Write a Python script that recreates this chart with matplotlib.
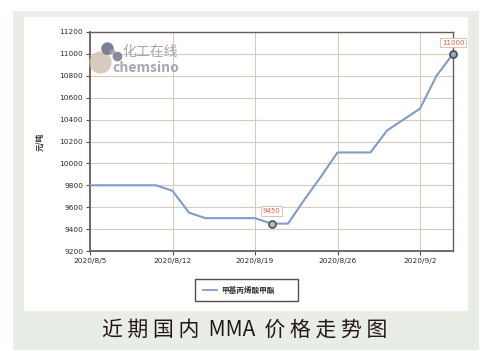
import matplotlib
matplotlib.use("Agg")
import matplotlib.pyplot as plt
from matplotlib.patches import Rectangle
from matplotlib.lines import Line2D

plt.rcParams["font.family"] = ["Noto Sans CJK SC", "DejaVu Sans"]

# weekday price series (yuan/ton)
dates = ["2020/8/5", "2020/8/6", "2020/8/7", "2020/8/10", "2020/8/11", "2020/8/12",
         "2020/8/13", "2020/8/14", "2020/8/17", "2020/8/18", "2020/8/19", "2020/8/20",
         "2020/8/21", "2020/8/24", "2020/8/25", "2020/8/26", "2020/8/27", "2020/8/28",
         "2020/8/31", "2020/9/1", "2020/9/2", "2020/9/3", "2020/9/4"]
prices = [9800, 9800, 9800, 9800, 9800, 9750, 9550, 9500, 9500, 9500, 9500, 9450,
          9450, 9670, 9880, 10100, 10100, 10100, 10300, 10400, 10500, 10800, 11000]
y_ticks = list(range(9200, 11201, 200))
tick_every = 5
series_name = "甲基丙烯酸甲酯"
y_label = "元/吨"
caption = "近 期 国 内  MMA  价 格 走 势 图"

W, H = 494, 351
fig = plt.figure(figsize=(W / 100, H / 100), dpi=100)
fig.patch.set_facecolor("white")


def px_rect(x0, y0, x1, y1, color):
    fig.patches.append(Rectangle((x0 / W, 1 - y1 / H), (x1 - x0) / W, (y1 - y0) / H,
                                 transform=fig.transFigure, facecolor=color,
                                 edgecolor="none", zorder=-10))


px_rect(13, 11, 479, 350, "#e8ede6")
px_rect(24, 17, 468, 311, "#ffffff")

ax = fig.add_axes([90 / W, 1 - 251 / H, (453 - 90) / W, (251 - 32) / H])
ax.set_facecolor("white")

x = list(range(len(dates)))
line_color = "#7f9ccc"
ax.plot(x, prices, color=line_color, lw=1.5, zorder=3)

ax.set_xlim(0, len(dates) - 1)
ax.set_ylim(y_ticks[0], y_ticks[-1])
ax.set_yticks(y_ticks)
ax.set_yticklabels([str(v) for v in y_ticks], fontsize=5.3, color="#2a2a2a",
                   family="Liberation Sans Narrow")
xt = x[::tick_every]
ax.set_xticks(xt)
ax.set_xticklabels([dates[i] for i in xt], fontsize=5.3, color="#2a2a2a",
                   family="Liberation Sans Narrow")
ax.tick_params(length=3, width=0.8, color="#5a4a4a", pad=2)
ax.grid(True, color="#dccabe", lw=0.8)
ax.set_axisbelow(True)
for s in ax.spines.values():
    s.set_color("#6e5c5c")
    s.set_linewidth(1.0)
ax.spines["left"].set_linewidth(1.3)
ax.spines["bottom"].set_linewidth(1.3)

# highlighted points
i_min = 11
i_last = len(prices) - 1
ax.plot(x[i_min], prices[i_min], "o", ms=5, mfc="#c9c37a", mec="#4a5a7a", mew=1.3,
        zorder=5, clip_on=False)
ax.plot(x[i_last], prices[i_last], "o", ms=5, mfc="#9aa8c0", mec="#4a5068", mew=1.3,
        zorder=5, clip_on=False)
box = dict(boxstyle="square,pad=0.25", fc="white", ec="#d8b8a8", lw=0.6)
ax.annotate(str(prices[i_min]), (x[i_min], prices[i_min]), xytext=(0, 7),
            textcoords="offset points", ha="center", va="bottom", fontsize=5,
            color="#e0603a", bbox=box, family="Liberation Sans Narrow")
ax.annotate(str(prices[i_last]), (x[i_last], prices[i_last]), xytext=(0, 6),
            textcoords="offset points", ha="center", va="bottom", fontsize=5,
            color="#e0603a", bbox=box, family="Liberation Sans Narrow",
            annotation_clip=False)

ax.set_ylabel(y_label, fontsize=5.5, fontweight="bold", color="#333333", labelpad=11)

# watermark
wm = [(100, 62, 16, "#cdbfae"), (107, 48, 9, "#5c6178"), (117, 56, 7, "#6a6f88"),
      (112, 51, 4, "#9a9fb2")]
for cx, cy, ms, c in wm:
    fig.add_artist(Line2D([cx / W], [1 - cy / H], marker="o", ms=ms, mfc=c, mec="none",
                          alpha=0.8, transform=fig.transFigure))
fig.text(122 / W, 1 - 52 / H, "化工在线", fontsize=10, color="#9c9ca6", va="center",
         ha="left", alpha=0.9)
fig.text(112 / W, 1 - 68 / H, "chemsino", fontsize=10, color="#9c9ca6", va="center",
         ha="left", alpha=0.9, fontweight="bold")

# legend box
lx0, ly0, lx1, ly1 = 195, 279, 298, 301
fig.patches.append(Rectangle((lx0 / W, 1 - ly1 / H), (lx1 - lx0) / W, (ly1 - ly0) / H,
                             transform=fig.transFigure, fc="white", ec="#5a4a4a",
                             lw=1.0, zorder=5))
fig.add_artist(Line2D([203 / W, 217 / W], [1 - 290 / H] * 2, color=line_color, lw=1.3,
                      transform=fig.transFigure, zorder=6))
fig.text(221 / W, 1 - 290 / H, series_name, fontsize=5.5, fontweight="bold",
         color="#333333", va="center", ha="left", zorder=6)

fig.text(245 / W, 1 - 330 / H, caption, fontsize=15, color="#231815",
         va="center", ha="center")

fig.savefig("out.png", dpi=100, facecolor=fig.get_facecolor())
